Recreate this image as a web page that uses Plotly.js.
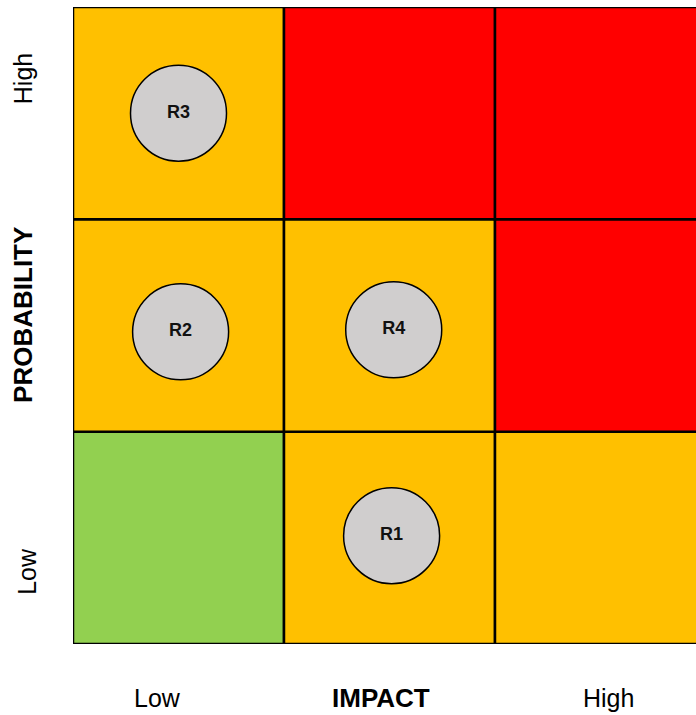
<!DOCTYPE html>
<html>
<head>
<meta charset="utf-8">
<script src="https://cdn.plot.ly/plotly-3.0.1.min.js"></script>
<style>
html,body{margin:0;padding:0;overflow:hidden;background:#fff;}
#chart{width:710px;height:715px;}
</style>
</head>
<body>
<div id="chart"></div>
<script>
// Risk matrix cell colours, rows from Low probability (bottom) to High (top), columns Low→High impact
const impactLevels = ['Low', 'Medium', 'High'];
const probabilityLevels = ['Low', 'Medium', 'High'];
const cellColors = [
  ['#92D050', '#FFC000', '#FFC000'],
  ['#FFC000', '#FFC000', '#FF0000'],
  ['#FFC000', '#FF0000', '#FF0000']
];
// Risks positioned on the matrix (impact, probability in cell units)
const riskNames = ['R1', 'R2', 'R3', 'R4'];
const riskImpact = [1.51, 0.51, 0.5, 1.52];
const riskProbability = [0.51, 1.47, 2.5, 1.48];

const shapes = [];
for (let r = 0; r < probabilityLevels.length; r++) {
  for (let c = 0; c < impactLevels.length; c++) {
    shapes.push({
      type: 'rect', xref: 'x', yref: 'y',
      x0: c, x1: c + 1, y0: r, y1: r + 1,
      fillcolor: cellColors[r][c],
      line: {color: '#000', width: 2.5},
      layer: 'below'
    });
  }
}

const trace = {
  type: 'scatter',
  mode: 'markers+text',
  x: riskImpact,
  y: riskProbability,
  text: riskNames.map(n => '<b>' + n + '</b>'),
  textposition: 'middle center',
  textfont: {family: 'Liberation Sans, Arial, sans-serif', size: 18, color: '#111'},
  marker: {size: 96, color: '#D0CECE', line: {color: '#000', width: 1.5}},
  hoverinfo: 'skip',
  cliponaxis: false
};

const fontFam = 'Liberation Sans, Arial, sans-serif';
const annotations = [
  {xref: 'x', yref: 'paper', x: 0.4, y: 0, yshift: -54, text: 'Low', showarrow: false, xanchor: 'center', yanchor: 'middle', font: {family: fontFam, size: 25, color: '#000'}},
  {xref: 'x', yref: 'paper', x: 1.46, y: 0, yshift: -54, text: '<b>IMPACT</b>', showarrow: false, xanchor: 'center', yanchor: 'middle', font: {family: fontFam, size: 26, color: '#000'}},
  {xref: 'x', yref: 'paper', x: 2.54, y: 0, yshift: -54, text: 'High', showarrow: false, xanchor: 'center', yanchor: 'middle', font: {family: fontFam, size: 25, color: '#000'}},
  {xref: 'paper', yref: 'y', x: 0, xshift: -50, y: 2.66, text: 'High', showarrow: false, textangle: -90, xanchor: 'center', yanchor: 'middle', font: {family: fontFam, size: 25, color: '#000'}},
  {xref: 'paper', yref: 'y', x: 0, xshift: -46, y: 0.34, text: 'Low', showarrow: false, textangle: -90, xanchor: 'center', yanchor: 'middle', font: {family: fontFam, size: 25, color: '#000'}},
  {xref: 'paper', yref: 'y', x: 0, xshift: -50, y: 1.55, text: '<b>PROBABILITY</b>', showarrow: false, textangle: -90, xanchor: 'center', yanchor: 'middle', font: {family: fontFam, size: 26, color: '#000'}}
];

const layout = {
  width: 710, height: 715,
  margin: {l: 73, r: 4, t: 7, b: 71, pad: 0},
  paper_bgcolor: '#fff', plot_bgcolor: '#fff',
  showlegend: false,
  xaxis: {range: [0, 3], showgrid: false, zeroline: false, showticklabels: false, ticks: '', showline: false, fixedrange: true},
  yaxis: {range: [0, 3], showgrid: false, zeroline: false, showticklabels: false, ticks: '', showline: false, fixedrange: true},
  shapes: shapes,
  annotations: annotations
};

Plotly.newPlot('chart', [trace], layout, {displayModeBar: false, staticPlot: true});
</script>
</body>
</html>
